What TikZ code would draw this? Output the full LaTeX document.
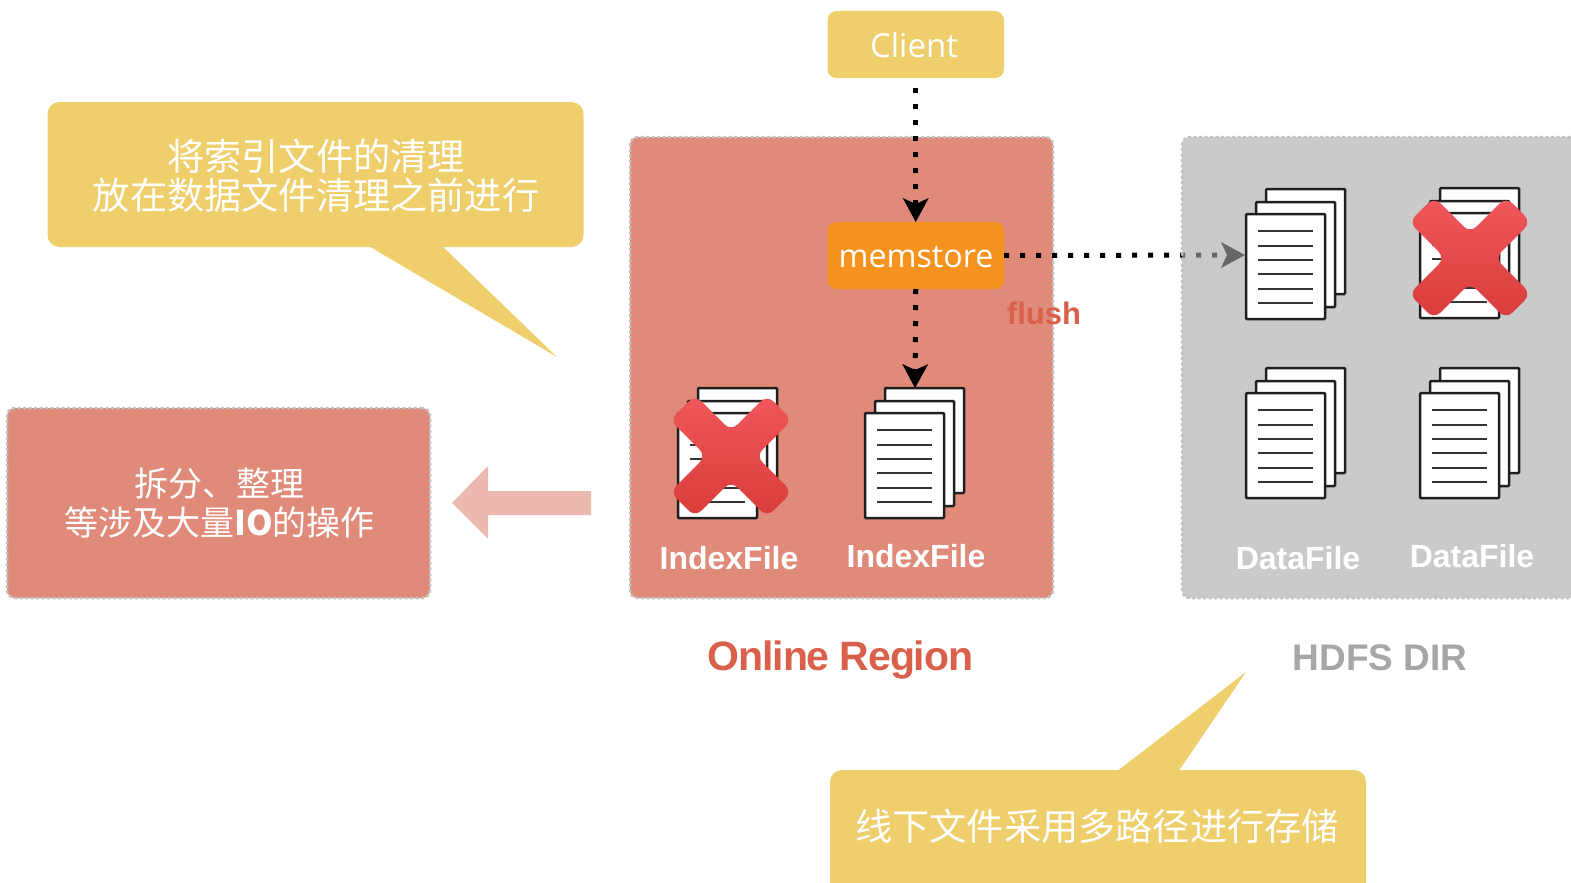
\documentclass[tikz,border=0pt]{standalone}
\usepackage{fontspec}
\setmainfont{Liberation Sans}
\newfontfamily\cjk{Noto Sans CJK SC}
\newfontfamily\boxfont{Open Sans}
\newfontfamily\tightbold[LetterSpace=-2.8]{Liberation Sans Bold}
\usetikzlibrary{arrows.meta}
\definecolor{yel}{HTML}{EFCF6B}
\definecolor{pinkbox}{HTML}{E08A7A}
\definecolor{org}{HTML}{F5931E}
\definecolor{redtxt}{HTML}{D9604A}
\definecolor{dashgray}{HTML}{C2C2C2}
\definecolor{overlay}{RGB}{167,170,168}
\definecolor{xtop}{HTML}{F0575B}
\definecolor{xbot}{HTML}{D93D3B}
\tikzset{
 every node/.style={inner sep=0pt,outer sep=0pt},
 ybox/.style={fill=yel,rounded corners=12pt},
 cbox/.style={rounded corners=9pt,minimum height=67pt,minimum width=176.5pt},
 regionbox/.style={fill=pinkbox,draw=dashgray,line width=2.5pt,dash pattern=on 3pt off 2.5pt,rounded corners=8pt},
 dots/.style={line width=5pt,dash pattern=on 5pt off 11pt,-{Stealth[length=24pt,width=26pt,inset=6pt,line width=0pt]}},
 bigtxt/.style={text=white,align=center,font=\cjk\fontsize{37.2}{38.5}\selectfont},
 lbl/.style={text=white,font=\bfseries\fontsize{32}{36}\selectfont},
 sheet/.style={draw=black!88,fill=white,line width=2.5pt,rounded corners=1pt,minimum width=79pt,minimum height=105pt,anchor=north west},
 docpic/.pic={
   \node[sheet] (-back) at (20,-25) {};
   \node[sheet] (-mid) at (10,-12) {};
   \node[sheet] (-front) at (0,0) {};
   \foreach \yy in {17,32,46,60,75,89} \draw[black!80,line width=2pt] (12,\yy) -- (67,\yy);
 },
 crosspic/.pic={
   \shade[top color=xtop,bottom color=xbot,rounded corners=9pt]
     (0,-25) -- (36,-61) -- (61,-36) -- (25,0) -- (61,36) -- (36,61) -- (0,25)
     -- (-36,61) -- (-61,36) -- (-25,0) -- (-61,-36) -- (-36,-61) -- cycle;
 }
}
\begin{document}
\begin{tikzpicture}[x=1pt,y=-1pt]
\path[use as bounding box] (0,0) rectangle (1571,883);
\clip (0,0) rectangle (1571,883);
% left callout
\fill[yel] (367,245) -- (557,357) -- (441,245) -- cycle;
\node[ybox,anchor=north west,minimum width=536pt,minimum height=145pt] (note1) at (47.5,102) {};
\node[bigtxt] (note1txt) at (316,176) {将索引文件的清理\\放在数据文件清理之前进行};
% left pink box
\node[regionbox,anchor=north west,minimum width=423pt,minimum height=190pt] (split) at (7,408) {};
\node[text=white,align=center,font=\cjk\fontsize{34}{39}\selectfont] (splittxt) at (219.5,503.5) {拆分、整理\\等涉及大量{\bfseries IO}的操作};
% region
\node[regionbox,anchor=north west,minimum width=423pt,minimum height=461pt] (region) at (630,137) {};
% client, memstore
\node[cbox,fill=yel,anchor=north west] (client) at (827.5,11) {};
\node[cbox,fill=org,anchor=north west] (mem) at (827.5,222) {};
\node[text=white,font=\boxfont\fontsize{33}{36}\selectfont] (clienttxt) at (914,45) {Client};
\node[text=white,font=\boxfont\fontsize{32.2}{36}\selectfont] (memtxt) at (916,257.5) {memstore};
\coordinate (d1in) at (1245,255);
\coordinate (idxin) at (915,388);
\draw[dots,shorten <=10pt] (client.south) -- (mem.north);
\draw[dots] (mem.south) -- (idxin);
\draw[dots] (mem.east) -- (d1in);
% HDFS overlay
\node[anchor=north west,minimum width=420pt,minimum height=461pt,fill=overlay,fill opacity=.61,rounded corners=8pt] (hdfs) at (1182,137) {};
\draw[dashgray,line width=2.5pt,dash pattern=on 3pt off 2.5pt,rounded corners=8pt] (1620,137) -- (1182,137) -- (1182,598) -- (1620,598);
% flush
\node[text=redtxt,font=\bfseries\fontsize{31}{34}\selectfont,anchor=center] (flush) at (1044,313) {flush};
% arrow
\fill[fill=pinkbox!60!white] (452,503) -- (488,466) -- (488,491) -- (591,491) -- (591,515) -- (488,515) -- (488,539) -- cycle;
% docs
\pic (i1) at (678,413) {docpic};
\pic (i2) at (865,413) {docpic};
\pic (d1) at (1246,214) {docpic};
\pic (d2) at (1420,213) {docpic};
\pic (d3) at (1246,393) {docpic};
\pic (d4) at (1420,393) {docpic};
\pic at (731,456) {crosspic};
\pic at (1470,258) {crosspic};
% labels
\node[lbl] (l1) at (729,558) {IndexFile};
\node[lbl] (l2) at (916,556) {IndexFile};
\node[lbl] (l3) at (1298,558) {DataFile};
\node[lbl] (l4) at (1472,556) {DataFile};
\node[text=redtxt,anchor=base,font=\tightbold\fontsize{41}{44}\selectfont] (online) at (840.5,670.5) {Online Region};
\node[text=black!35,font=\bfseries\fontsize{37}{40}\selectfont] (hd) at (1380,658) {HDFS DIR};
% bottom callout
\fill[yel] (1116,772) -- (1246,672) -- (1178,772) -- cycle;
\node[ybox,anchor=north west,minimum width=536pt,minimum height=140pt] (note2) at (830,770) {};
\node[bigtxt] (note2txt) at (1097,826) {线下文件采用多路径进行存储};
\end{tikzpicture}
\end{document}
